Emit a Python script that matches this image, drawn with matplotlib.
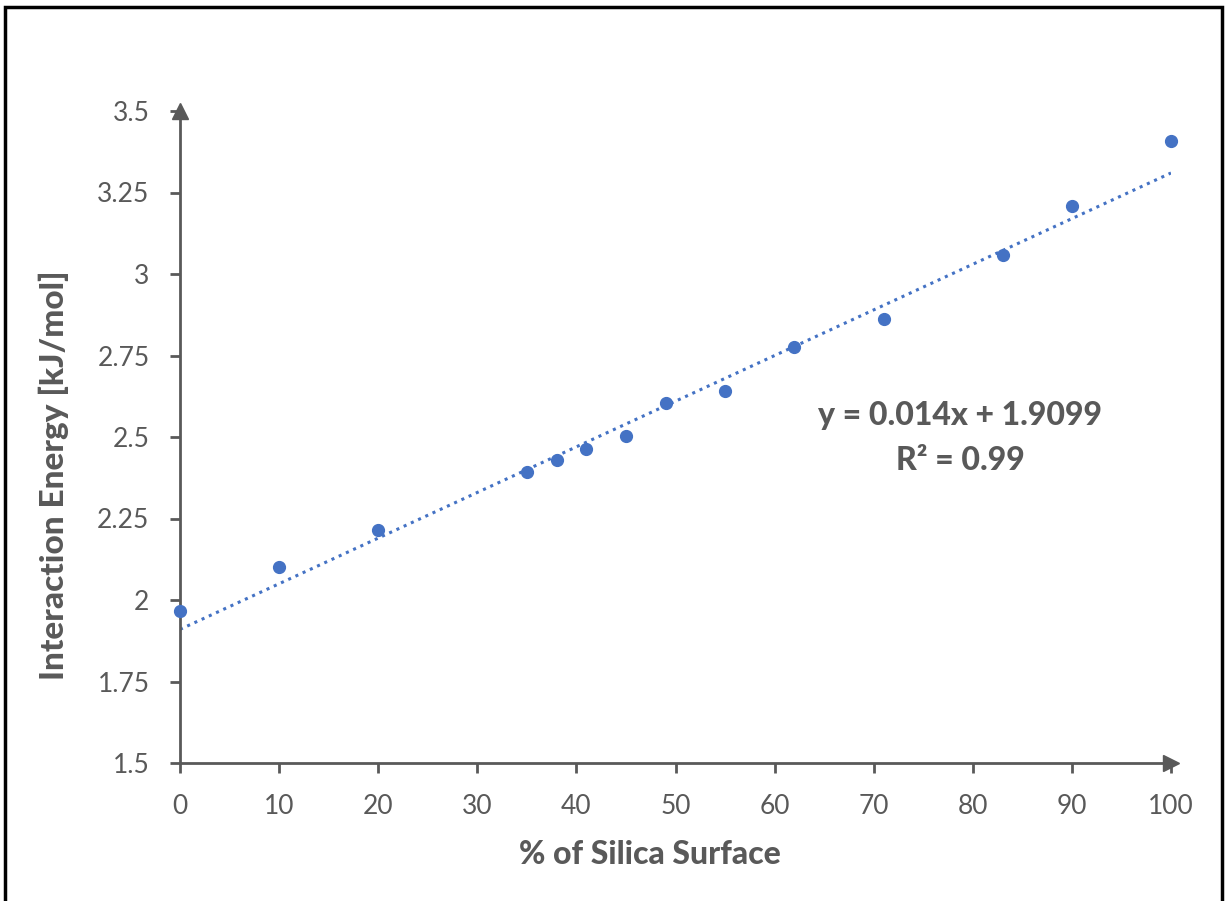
import numpy as np
import matplotlib.pyplot as plt
from matplotlib.patches import Rectangle

# datos
silica = [0, 10, 20, 35, 38, 41, 45, 49, 55, 62, 71, 83, 90, 100]
energia = [1.966, 2.100, 2.214, 2.394, 2.428, 2.462, 2.502, 2.603, 2.642,
           2.777, 2.863, 3.059, 3.209, 3.408]

# linea de tendencia (de la ecuacion del grafico)
pendiente = 0.014
intercepto = 1.9099
ecuacion = "y = 0.014x + 1.9099"
r2_texto = "R² = 0.99"

gris = '#595959'
azul = '#4472C4'

plt.rcParams['font.family'] = ['Lato', 'DejaVu Sans']

fig = plt.figure(figsize=(12.25, 9.01), dpi=100)
ax = fig.add_axes([180 / 1225, 1 - 763 / 901, 991 / 1225, 652 / 901])

xs = np.array([0, 100])
ax.plot(xs, pendiente * xs + intercepto, linestyle=(0, (1, 1.6)), color=azul,
        linewidth=2.2, zorder=2)
ax.plot(silica, energia, 'o', color=azul, markersize=8.5, zorder=3, clip_on=False)

ax.set_xlim(0, 100)
ax.set_ylim(1.5, 3.5)
ax.set_xticks(range(0, 101, 10))
ax.set_yticks([1.5, 1.75, 2, 2.25, 2.5, 2.75, 3, 3.25, 3.5])
ax.set_yticklabels(['1.5', '1.75', '2', '2.25', '2.5', '2.75', '3', '3.25', '3.5'])

for lado in ['top', 'right']:
    ax.spines[lado].set_visible(False)
for lado in ['left', 'bottom']:
    ax.spines[lado].set_color(gris)
    ax.spines[lado].set_linewidth(2)

ax.tick_params(colors=gris, labelsize=19, width=2, length=7, pad=15)

# flechas al final de los ejes
ax.plot(1, 0, '>', color=gris, markersize=11, transform=ax.transAxes,
        clip_on=False, zorder=4)
ax.plot(0, 1, '^', color=gris, markersize=11, transform=ax.transAxes,
        clip_on=False, zorder=4)

ax.set_xlabel('% of Silica Surface', fontsize=23, fontweight='black', color=gris)
ax.set_ylabel('Interaction Energy [kJ/mol]', fontsize=24, fontweight='black',
              color=gris)
ax.xaxis.set_label_coords(0.474, -0.118)
ax.yaxis.set_label_coords(-0.112, 0.442)

fig.text(960 / 1225, 1 - 416 / 901, ecuacion, fontsize=23, fontweight='black',
         color=gris, ha='center', va='center')
fig.text(960 / 1225, 1 - 461 / 901, r2_texto, fontsize=23, fontweight='black',
         color=gris, ha='center', va='center')

# marco negro alrededor
fig.patches.append(Rectangle((5 / 1225, -0.05), 1217 / 1225, 1.05 - 7 / 901,
                             transform=fig.transFigure, fill=False,
                             edgecolor='black', linewidth=2.5))

fig.savefig('out.png', dpi=100)
